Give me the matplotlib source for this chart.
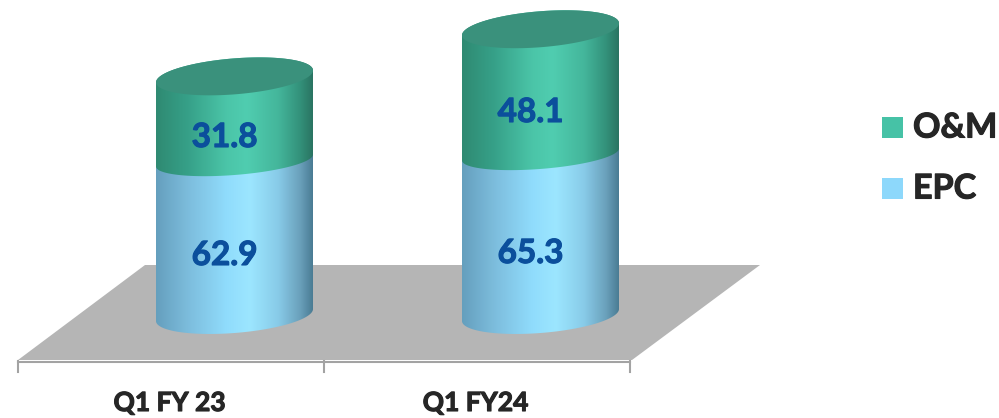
import numpy as np
import matplotlib
matplotlib.use("Agg")
import matplotlib.pyplot as plt
import matplotlib.patheffects as pe
from matplotlib.patches import Polygon, Rectangle
from matplotlib.colors import LinearSegmentedColormap

categories = ["Q1 FY 23", "Q1 FY24"]
epc = [62.9, 65.3]
om = [31.8, 48.1]
series_names = ["O&M", "EPC"]

W, H = 999, 418
PX_PER_CAT = 306.0
PX_PER_VAL = 2.52
X0_PX, Y0_PX = 171.0, 315.0

fig = plt.figure(figsize=(W / 100, H / 100), dpi=100)
ax = fig.add_axes([0, 0, 1, 1])
ax.axis("off")

def dx(px):
    return (px - X0_PX) / PX_PER_CAT
def dy(py):
    return (Y0_PX - py) / PX_PER_VAL

green_cmap = LinearSegmentedColormap.from_list("g", [
    (0.0, "#2f8a72"), (0.2, "#36a088"), (0.45, "#4bc5a8"), (0.58, "#50cdb0"),
    (0.78, "#44b69b"), (0.92, "#33917a"), (1.0, "#2a7462")])
blue_cmap = LinearSegmentedColormap.from_list("b", [
    (0.0, "#659fbd"), (0.2, "#7cbcdc"), (0.45, "#90dcfc"), (0.6, "#9ce6ff"),
    (0.78, "#88cbe8"), (0.92, "#6aa0bb"), (1.0, "#4a7c94")])

CYL_OFFSET = 63.5
A_PX, S_PX, B_PX = 78.5, 6.0, 18.0

def ell(cx_px, val, t, b=B_PX, shift=0.0):
    x = dx(cx_px + A_PX * np.cos(t))
    y = val + (S_PX * np.cos(t) + b * np.sin(t) - shift) / PX_PER_VAL
    return np.column_stack([x, y])

grad = np.linspace(0, 1, 256).reshape(1, -1)

def body(cx_px, v0, v1, cmap, b_low=B_PX, shift_low=0.0):
    lower = ell(cx_px, v0, np.linspace(np.pi, 2 * np.pi, 120), b_low, shift_low)
    upper = ell(cx_px, v1, np.linspace(0, np.pi, 120))
    verts = np.vstack([lower, upper, lower[:1]])
    clip = Polygon(verts, closed=True, transform=ax.transData, fc="none", ec="none")
    ax.add_patch(clip)
    im = ax.imshow(grad, cmap=cmap, aspect="auto", zorder=3,
                   extent=[dx(cx_px - A_PX), dx(cx_px + A_PX), v0 - 10, v1 + 10])
    im.set_clip_path(clip)

def label(x, y, s, size, color, ha="center"):
    t = ax.text(x, y, s, ha=ha, va="center", fontsize=size, fontweight="bold",
                family="Lato", color=color, zorder=5)
    t.set_path_effects([pe.withStroke(linewidth=0.8, foreground=color)])

floor_px = [(18, 360), (145, 265), (760, 265), (632, 360)]
ax.add_patch(Polygon([(dx(a), dy(b)) for a, b in floor_px], closed=True,
                     fc="#b5b5b5", ec="none", zorder=1))

n = len(categories)
edges = np.arange(n + 1) - 0.5 + (18 + PX_PER_CAT / 2 - X0_PX) / PX_PER_CAT
ax.plot([edges[0], edges[-1]], [dy(361.5)] * 2, color="#a3a3a3", lw=1.5, zorder=2)
for e in edges:
    ax.plot([e, e], [dy(361), dy(372)], color="#a3a3a3", lw=1.5, zorder=2)

epc_label_y = [255.5, 253.5]
om_label_y = [137.5, 112.5]
for i, cat in enumerate(categories):
    cx = X0_PX + i * PX_PER_CAT + CYL_OFFSET
    body(cx, 0, epc[i], blue_cmap)
    body(cx, epc[i], epc[i] + om[i], green_cmap, b_low=14.5, shift_low=4.0)
    top = ell(cx, epc[i] + om[i], np.linspace(0, 2 * np.pi, 240))
    ax.add_patch(Polygon(top, closed=True, fc="#3a917c", ec="none", zorder=4))
    label(dx(cx - 10), dy(epc_label_y[i]), f"{epc[i]}", 24, "#0b4f9c")
    label(dx(cx - 10), dy(om_label_y[i]), f"{om[i]}", 24, "#0b4f9c")
    label(i - 0.005, dy(403), cat, 19, "#262626")

leg_colors = ["#46c2a6", "#8dd8fb"]
leg_y = [127.5, 188.5]
for name, c, y in zip(series_names, leg_colors, leg_y):
    ax.add_patch(Rectangle((dx(882), dy(y + 10.5)), 21 / PX_PER_CAT, 21 / PX_PER_VAL,
                           fc=c, ec="none", zorder=5))
    label(dx(913), dy(y), name, 24.5, "#262626", ha="left")

ax.set_xlim(dx(0), dx(W))
ax.set_ylim(dy(H), dy(0))
fig.savefig("out.png", dpi=100)
